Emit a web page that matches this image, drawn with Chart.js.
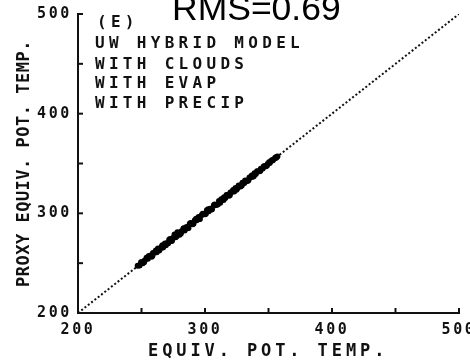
<!DOCTYPE html>
<html>
<head>
<meta charset="utf-8">
<script src="https://cdn.jsdelivr.net/npm/chart.js@4/dist/chart.umd.min.js"></script>
<style>
  html, body { margin: 0; padding: 0; background: #fff; }
  #wrap { width: 470px; height: 360px; }
</style>
</head>
<body>
<div id="wrap"><canvas id="c" width="470" height="360"></canvas></div>
<script>
// ---- data ----
const titleText = "RMS=0.69";
const panelLines = ["(E)", "UW HYBRID MODEL", "WITH CLOUDS", "WITH EVAP", "WITH PRECIP"];
const xAxisTitle = "EQUIV. POT. TEMP.";
const yAxisTitle = "PROXY EQUIV. POT. TEMP.";
const axisMin = 200, axisMax = 500, minorStep = 50;
const labeledTicks = [200, 300, 400, 500];
const oneToOneLine = [200, 500];

const equivPotTemp = [247,248.5,250,251,252.5,254,255,256.5,258,259,260.5,262,263,264.5,266,267,268.5,270,271,272.5,
  274,275,276,277.5,279,280,281.5,283,284,285.5,287,288,289.5,291,292,293.5,295,296,297.5,299,300,301.5,303,304,
  305.5,307,308,309.5,311,312,313.5,315,316,317.5,319,320,321.5,323,324,325.5,327,328,329.5,331,332,333.5,335,336,
  337.5,339,340,341.5,343,344,345.5,347,348,349.5,351,352,353.5,355,356,357];
const proxyEquivPotTemp = [247.5,247.7,251,249.8,252.8,255.4,254.4,257.4,256.5,260.1,260.7,261,264.6,264.1,266.8,265.7,
  269.7,270.1,270.1,274.2,272.6,275.6,278.8,276.8,280.3,278.4,281.9,284.9,282.9,286.2,285.2,289.5,289.7,289.8,293,293,
  296.4,294.3,298.4,299.3,299,303.1,302.2,304.5,304,308.2,308,308.6,312.3,310.7,314.1,316.1,315.4,318.3,317.6,321,
  321.7,321.9,325.4,325.2,327.7,326.8,330.7,330.5,332.4,332.5,335.9,336.1,336.7,340.1,339.4,342,342.1,344.8,345.1,
  347.6,347.3,349.8,350.5,352.5,353.2,355.2,355.8,357.1];
// second batch of samples in the same cloud
const equivPotTemp2 = [249.7,252,255.6,258.6,261.3,264,266.5,269.2,271.8,273.5,276.8,278.3,281,283.6,286.2,288.7,
  290.4,293,295.4,298.2,300.7,302.5,305,307.6,310.2,312.8,314.6,317,319.6,322.2,324.8,326.5,329,331.6,334.2,336.8,
  338.4,341,343.6,346.2,348.8,350.5,353,355.8];
const proxyEquivPotTemp2 = [250.9,251,256.9,257.5,262.6,262.8,267.9,268.1,273.4,272.2,276.1,280.9,279.8,285.1,285,
  290.3,289.1,294.6,294.2,299.6,299.5,304,303.8,308.9,309.1,314.2,313.5,318.3,318.4,323.5,323.7,327.9,327.9,333,
  333.2,338,337.3,342.2,342.8,347.1,348,351.2,353.6,356.3];

const INK = '#111';
const MONO = '"DejaVu Sans Mono", "Liberation Mono", monospace';

const scatterPts = equivPotTemp.map((x, i) => ({ x: x, y: proxyEquivPotTemp[i] }));
const scatterPts2 = equivPotTemp2.map((x, i) => ({ x: x, y: proxyEquivPotTemp2[i] }));
const linePts = oneToOneLine.map(v => ({ x: v, y: v }));

function setSpacing(ctx, s) { if ('letterSpacing' in ctx) ctx.letterSpacing = s; }

const textPlugin = {
  id: 'plotterText',
  beforeDraw(chart) {
    setSpacing(chart.ctx, '2.6px');
  },
  afterDraw(chart) {
    const ctx = chart.ctx;
    const xs = chart.scales.x, ys = chart.scales.y;
    ctx.save();
    // inward tick marks
    ctx.strokeStyle = INK;
    ctx.lineWidth = 2;
    for (let v = axisMin + minorStep; v <= axisMax; v += minorStep) {
      const px = xs.getPixelForValue(v);
      ctx.beginPath(); ctx.moveTo(px, xs.top); ctx.lineTo(px, xs.top - 5); ctx.stroke();
      const py = ys.getPixelForValue(v);
      ctx.beginPath(); ctx.moveTo(ys.right, py); ctx.lineTo(ys.right + 5, py); ctx.stroke();
    }
    // title
    setSpacing(ctx, '0px');
    ctx.fillStyle = '#000';
    ctx.font = '35.5px "Liberation Sans", Arial, sans-serif';
    ctx.textAlign = 'left';
    ctx.textBaseline = 'alphabetic';
    ctx.fillText(titleText, 172, 20);
    // panel text
    ctx.fillStyle = INK;
    ctx.font = 'bold 16px ' + MONO;
    setSpacing(ctx, '4.3px');
    const baselines = [27, 48, 69, 88, 108];
    const lefts = [97, 95, 95, 95, 95];
    panelLines.forEach((t, i) => ctx.fillText(t, lefts[i], baselines[i]));
    // x axis title
    ctx.font = 'bold 17px ' + MONO;
    setSpacing(ctx, '3.9px');
    ctx.fillText(xAxisTitle, 148, 356);
    // y axis title (rotated)
    ctx.save();
    ctx.translate(29, 287);
    ctx.rotate(-Math.PI / 2);
    ctx.font = 'bold 17px ' + MONO;
    setSpacing(ctx, '0.5px');
    ctx.fillText(yAxisTitle, 0, 0);
    ctx.restore();
    ctx.restore();
    setSpacing(ctx, '0px');
  }
};

new Chart(document.getElementById('c'), {
  type: 'scatter',
  data: {
    datasets: [
      {
        type: 'line',
        data: linePts,
        borderColor: INK,
        borderWidth: 2,
        borderDash: [2, 2.2],
        pointRadius: 0,
        fill: false,
        order: 3
      },
      {
        data: scatterPts,
        backgroundColor: '#000',
        borderWidth: 0,
        pointRadius: 3,
        order: 1
      },
      {
        data: scatterPts2,
        backgroundColor: '#000',
        borderWidth: 0,
        pointRadius: 3,
        order: 2
      }
    ]
  },
  options: {
    responsive: false,
    animation: false,
    layout: { padding: { left: 0, right: 11, top: 14, bottom: 0 } },
    plugins: { legend: { display: false }, tooltip: { enabled: false }, title: { display: false } },
    scales: {
      x: {
        type: 'linear', min: axisMin, max: axisMax,
        afterFit(s) { s.height = 47; s.paddingLeft = 0; s.paddingRight = 0; },
        afterBuildTicks(s) { s.ticks = []; for (let v = axisMin; v <= axisMax; v += minorStep) s.ticks.push({ value: v }); },
        ticks: {
          autoSkip: false, maxRotation: 0, padding: 8, color: INK,
          font: { family: MONO, size: 15, weight: 'bold' },
          callback: v => labeledTicks.includes(v) ? String(v) : ''
        },
        grid: { display: true, drawOnChartArea: false, drawTicks: false },
        border: { display: true, color: INK, width: 2 }
      },
      y: {
        type: 'linear', min: axisMin, max: axisMax,
        afterFit(s) { s.width = 78; s.paddingTop = 0; s.paddingBottom = 0; },
        afterBuildTicks(s) { s.ticks = []; for (let v = axisMin; v <= axisMax; v += minorStep) s.ticks.push({ value: v }); },
        ticks: {
          autoSkip: false, padding: 6, color: INK,
          font: { family: MONO, size: 15, weight: 'bold' },
          callback: v => labeledTicks.includes(v) ? String(v) : ''
        },
        grid: { display: true, drawOnChartArea: false, drawTicks: false },
        border: { display: true, color: INK, width: 2 }
      }
    }
  },
  plugins: [textPlugin]
});
</script>
</body>
</html>
